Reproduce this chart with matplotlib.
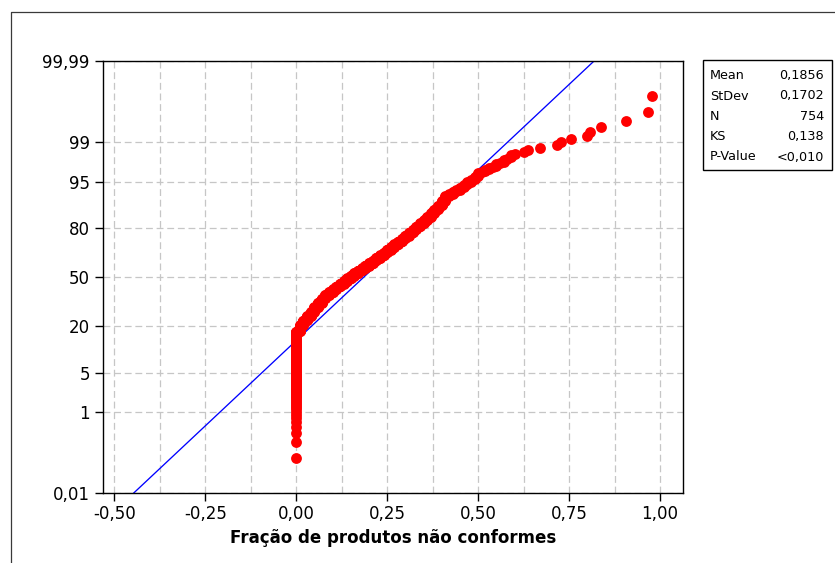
import math
import numpy as np
import matplotlib
matplotlib.use("Agg")
import matplotlib.pyplot as plt
from matplotlib.lines import Line2D
from matplotlib.patches import Rectangle
from matplotlib.ticker import MultipleLocator, NullLocator
from statistics import NormalDist

# ---------------- data ----------------
levels = [0.00, 0.01, 0.02, 0.03, 0.04, 0.05, 0.06, 0.07, 0.08, 0.09,
          0.10, 0.11, 0.12, 0.13, 0.14, 0.15, 0.16, 0.17, 0.18, 0.19,
          0.20, 0.21, 0.22, 0.23, 0.24, 0.25, 0.26, 0.27, 0.28, 0.29,
          0.30, 0.31, 0.32, 0.33, 0.34, 0.35, 0.36, 0.37, 0.38, 0.39,
          0.40, 0.41, 0.42, 0.43, 0.44, 0.45, 0.46, 0.47, 0.48, 0.49,
          0.50, 0.51, 0.52, 0.53, 0.54, 0.55, 0.56, 0.57, 0.58, 0.59, 0.60]
counts = [132, 22, 18, 18, 18, 20, 21, 20, 17, 14,
          15, 14, 14, 14, 14, 14, 13, 13, 12, 13,
          13, 13, 13, 13, 13, 13, 12, 13, 12, 12,
          12, 12, 12, 11, 11, 10, 10, 11, 10, 10,
          11, 10, 4, 4, 3, 4, 4, 4, 3, 4,
          4, 1, 2, 2, 1, 2, 1, 2, 1, 2, 1]
tail_values = [0.625, 0.637, 0.669, 0.717, 0.729, 0.756,
               0.798, 0.808, 0.838, 0.905, 0.967, 0.978]

fit_mean = 0.1856
fit_std = 0.1702

stats_labels = ["Mean", "StDev", "N", "KS", "P-Value"]
stats_values = ["0,1856", "0,1702", "754", "0,138", "<0,010"]

x_ticks = [-0.50, -0.25, 0.00, 0.25, 0.50, 0.75, 1.00]
x_ticklabels = ["-0,50", "-0,25", "0,00", "0,25", "0,50", "0,75", "1,00"]
y_ticks = [0.01, 1, 5, 20, 50, 80, 95, 99, 99.99]
y_ticklabels = ["0,01", "1", "5", "20", "50", "80", "95", "99", "99,99"]
x_label = "Fração de produtos não conformes"

# ---------------- probability scale ----------------
_nd = NormalDist()
_ppf = np.vectorize(_nd.inv_cdf, otypes=[float])
_erf = np.vectorize(math.erf, otypes=[float])


def prob_forward(p):
    p = np.clip(np.asarray(p, dtype=float) / 100.0, 1e-12, 1 - 1e-12)
    return _ppf(p)


def prob_inverse(z):
    z = np.asarray(z, dtype=float)
    return 100.0 * 0.5 * (1.0 + _erf(z / math.sqrt(2.0)))


# ---------------- figure ----------------
W, H = 835, 563
fig = plt.figure(figsize=(W / 100, H / 100), dpi=100)
fig.patch.set_facecolor("white")
plt.rcParams["font.family"] = ["DejaVu Sans"]

ax_l, ax_r, ax_t, ax_b = 103, 683, 61, 493.3
ax = fig.add_axes([ax_l / W, 1 - ax_b / H, (ax_r - ax_l) / W, (ax_b - ax_t) / H])

values = np.sort(np.concatenate([np.repeat(levels, counts), tail_values]))
n = len(values)
ranks = np.arange(1, n + 1)
pct = 100.0 * (ranks - 0.3) / (n + 0.4)

ax.set_yscale("function", functions=(prob_forward, prob_inverse))

# fitted normal line
line_pct = np.array([0.01, 0.1, 1, 5, 20, 50, 80, 95, 99, 99.9, 99.99])
line_x = fit_mean + fit_std * prob_forward(line_pct)
ax.plot(line_x, line_pct, color="#0000ff", lw=0.95, zorder=2)

ax.plot(values, pct, linestyle="none", marker="o", ms=7.8,
        mfc="#ff0000", mec="#ff0000", mew=0, zorder=3)

ax.set_xlim(-0.531, 1.063)
ax.set_ylim(0.01, 99.99)

ax.set_xticks(x_ticks)
ax.set_xticklabels(x_ticklabels)
ax.xaxis.set_minor_locator(MultipleLocator(0.125))
ax.set_yticks(y_ticks)
ax.set_yticklabels(y_ticklabels)
ax.yaxis.set_minor_locator(NullLocator())

ax.tick_params(axis="both", which="major", direction="out", length=5.5,
               width=1.0, color="black", labelsize=12, labelcolor="black")
ax.tick_params(axis="x", which="major", pad=3)
ax.tick_params(axis="y", which="major", pad=4)
ax.tick_params(axis="x", which="minor", length=0)

grid_kw = dict(color="#c6c6c6", linestyle=(0, (5.5, 3)), linewidth=0.9)
ax.grid(True, axis="x", which="both", **grid_kw)
ax.grid(True, axis="y", which="major", **grid_kw)
ax.set_axisbelow(True)

for s in ax.spines.values():
    s.set_linewidth(1.0)
    s.set_color("black")

ax.set_xlabel(x_label, fontsize=12, fontweight="bold", labelpad=4)

# outer frame of the graph window
fig.add_artist(Line2D([11 / W, 11 / W, 1.0], [0.0, 1 - 12 / H, 1 - 12 / H],
                      transform=fig.transFigure, color="#3a3a3a", lw=0.9))

# statistics box
bx0, bx1, by0, by1 = 703, 832, 60, 169.5
fig.add_artist(Rectangle((bx0 / W, 1 - by1 / H), (bx1 - bx0) / W, (by1 - by0) / H,
                         transform=fig.transFigure, fill=False,
                         edgecolor="black", lw=1.0))
row_y = [75.5, 96, 116.5, 136.5, 157]
for lab, val, yy in zip(stats_labels, stats_values, row_y):
    fig.text(710 / W, 1 - yy / H, lab, ha="left", va="center", fontsize=9.2)
    fig.text(824 / W, 1 - yy / H, val, ha="right", va="center", fontsize=9.2)

fig.savefig("out.png", dpi=100, facecolor="white")
